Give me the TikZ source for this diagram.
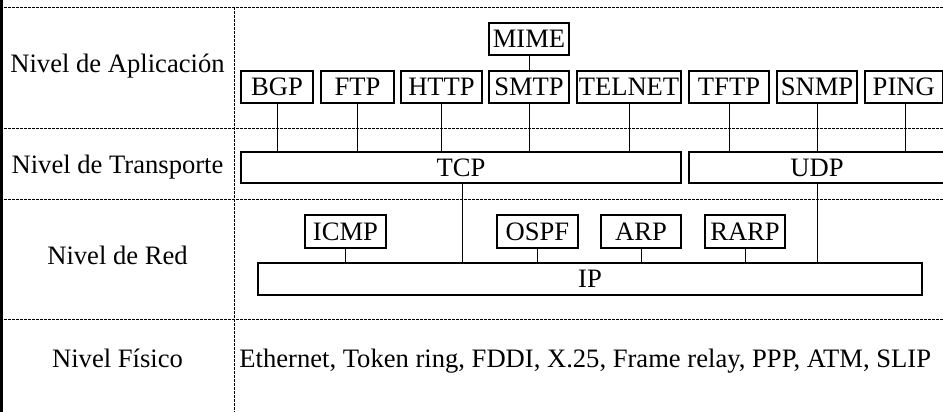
\documentclass[tikz,border=0pt]{standalone}
\usepackage{fontspec}
\setmainfont{Liberation Serif}
\begin{document}
\begin{tikzpicture}[x=0.5pt,y=-0.5pt,
  box/.style={draw, line width=0.6pt, inner sep=0pt, minimum height=16pt, font=\fontsize{13.3}{15}\selectfont},
  lbl/.style={inner sep=0pt, anchor=base, font=\fontsize{13.3}{15}\selectfont},
  conn/.style={line width=0.5pt},
  sep/.style={line width=0.4pt, dash pattern=on 1.5pt off 0.5pt},
]
\useasboundingbox (0,0) rectangle (943,412);
\clip (0,0) rectangle (943,412);
% grid
\draw[sep] (0,7) -- (943,7);
\draw[sep] (0,128) -- (943,128);
\draw[sep] (0,199) -- (943,199);
\draw[sep] (0,319) -- (943,319);
\draw[sep] (234,7) -- (234,412);
\draw[line width=1.3pt] (1.5,0) -- (1.5,412);
% level labels
\node[lbl] (la) at (117.5,72.7) {Nivel de Aplicación};
\node[lbl] (lt) at (117.5,173) {Nivel de Transporte};
\node[lbl] (lr) at (117.5,264) {Nivel de Red};
\node[lbl] (lf) at (117.5,367) {Nivel Físico};
\node[lbl, anchor=base west] (phys) at (239,367) {Ethernet, Token ring, FDDI, X.25, Frame relay, PPP, ATM, SLIP};
% application
\node[box, minimum width=36pt] (bgp) at (277,87) {BGP};
\node[box, minimum width=36.5pt] (ftp) at (357.5,87) {FTP};
\node[box, minimum width=40.5pt] (http) at (441.5,87) {HTTP};
\node[box, minimum width=40pt] (smtp) at (529,87) {SMTP};
\node[box, minimum width=52pt] (telnet) at (629,87) {TELNET};
\node[box, minimum width=40pt] (tftp) at (729,87) {TFTP};
\node[box, minimum width=40pt] (snmp) at (817,87) {SNMP};
\node[box, minimum width=38.75pt] (ping) at (903.75,87) {PING};
\node[box, minimum width=40pt] (mime) at (529,39) {MIME};
% transport
\node[box, minimum width=220pt, minimum height=15.5pt] (tcp) at (461,167.5) {TCP};
\node[box, minimum width=128pt, minimum height=15.5pt] (udp) at (817,167.5) {UDP};
% network
\node[box, minimum width=40.5pt, minimum height=16.5pt] (icmp) at (345.5,231.5) {ICMP};
\node[box, minimum width=40.5pt, minimum height=16.5pt] (ospf) at (537.5,231.5) {OSPF};
\node[box, minimum width=40pt, minimum height=16.5pt] (arp) at (641,231.5) {ARP};
\node[box, minimum width=40pt, minimum height=16.5pt] (rarp) at (745,231.5) {RARP};
\node[box, minimum width=332pt] (ip) at (590,279) {IP};
% connectors
\draw[conn] (mime.south) -- (smtp.north);
\foreach \n in {bgp,ftp,http,smtp,telnet} \draw[conn] (\n.south) -- (\n.south |- tcp.north);
\foreach \n in {tftp,snmp} \draw[conn] (\n.south) -- (\n.south |- udp.north);
\draw[conn] (ping.south) ++(1.25,0) coordinate (pingc) -- (pingc |- udp.north);
\draw[conn] ([xshift=0.5pt]tcp.south) coordinate (tcpc) -- (tcpc |- ip.north);
\draw[conn] (udp.south) -- (udp.south |- ip.north);
\foreach \n in {icmp,ospf,arp,rarp} \draw[conn] (\n.south) -- (\n.south |- ip.north);
\end{tikzpicture}
\end{document}
